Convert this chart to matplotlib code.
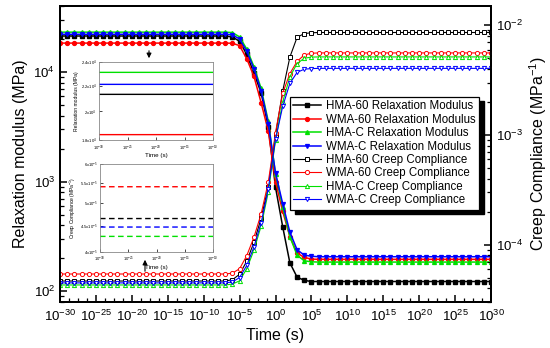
import matplotlib
matplotlib.use("Agg")
import matplotlib.pyplot as plt
from matplotlib.ticker import FixedLocator, NullFormatter, NullLocator, LogLocator
from matplotlib.patches import Rectangle, FancyArrowPatch
import numpy as np

plt.rcParams['font.family'] = ['Liberation Sans', 'DejaVu Sans']
plt.rcParams['mathtext.fontset'] = 'custom'
plt.rcParams['mathtext.rm'] = 'Liberation Sans'
plt.rcParams['mathtext.it'] = 'Liberation Sans:italic'
plt.rcParams['mathtext.default'] = 'regular'

# ---------------- data ----------------
decade_exponents = list(range(-30, 31))          # 1e-30 ... 1e30 s, one point per decade
time_s = [10.0 ** e for e in decade_exponents]

# Relaxation modulus (MPa)
relax_hma60 = [
    21300, 21300, 21300, 21300, 21300, 21300, 21300, 21300, 21300, 21300, 21300, 21300,
    21300, 21300, 21300, 21300, 21300, 21300, 21300, 21300, 21300, 21300, 21300, 21300,
    20900, 19050, 14450, 9770, 6460, 3160, 890, 389, 182, 135, 126, 123,
    123, 123, 123, 123, 123, 123, 123, 123, 123, 123, 123, 123,
    123, 123, 123, 123, 123, 123, 123, 123, 123, 123, 123, 123, 123]
relax_wma60 = [
    18360, 18360, 18360, 18360, 18360, 18360, 18360, 18360, 18360, 18360, 18360, 18360,
    18360, 18360, 18360, 18360, 18360, 18360, 18360, 18360, 18360, 18360, 18360, 18360,
    18300, 17400, 13200, 9120, 5250, 2880, 1000, 537, 316, 224, 204, 197,
    196, 196, 196, 196, 196, 196, 196, 196, 196, 196, 196, 196,
    196, 196, 196, 196, 196, 196, 196, 196, 196, 196, 196, 196, 196]
relax_hmac = [
    23100, 23100, 23100, 23100, 23100, 23100, 23100, 23100, 23100, 23100, 23100, 23100,
    23100, 23100, 23100, 23100, 23100, 23100, 23100, 23100, 23100, 23100, 23100, 23100,
    22900, 20900, 16200, 11200, 7080, 3550, 1175, 589, 316, 214, 190, 186,
    185, 185, 185, 185, 185, 185, 185, 185, 185, 185, 185, 185,
    185, 185, 185, 185, 185, 185, 185, 185, 185, 185, 185, 185, 185]
relax_wmac = [
    22100, 22100, 22100, 22100, 22100, 22100, 22100, 22100, 22100, 22100, 22100, 22100,
    22100, 22100, 22100, 22100, 22100, 22100, 22100, 22100, 22100, 22100, 22100, 22100,
    21900, 19950, 15500, 10700, 6760, 3390, 1200, 631, 347, 240, 214, 209,
    207, 207, 207, 207, 207, 207, 207, 207, 207, 207, 207, 207,
    207, 207, 207, 207, 207, 207, 207, 207, 207, 207, 207, 207, 207]

# Creep compliance (1/MPa)
creep_hma60 = [
    4.66e-5, 4.66e-5, 4.66e-5, 4.66e-5, 4.66e-5, 4.66e-5, 4.66e-5, 4.66e-5, 4.66e-5, 4.66e-5, 4.66e-5, 4.66e-5,
    4.66e-5, 4.66e-5, 4.66e-5, 4.66e-5, 4.66e-5, 4.66e-5, 4.66e-5, 4.66e-5, 4.66e-5, 4.66e-5, 4.66e-5, 4.66e-5,
    4.79e-5, 5.37e-5, 7.08e-5, 1.05e-4, 1.74e-4, 3.39e-4, 1.0e-3, 2.51e-3, 5.13e-3, 7.76e-3, 8.41e-3, 8.55e-3,
    8.6e-3, 8.6e-3, 8.6e-3, 8.6e-3, 8.6e-3, 8.6e-3, 8.6e-3, 8.6e-3, 8.6e-3, 8.6e-3, 8.6e-3, 8.6e-3,
    8.6e-3, 8.6e-3, 8.6e-3, 8.6e-3, 8.6e-3, 8.6e-3, 8.6e-3, 8.6e-3, 8.6e-3, 8.6e-3, 8.6e-3, 8.6e-3, 8.6e-3]
creep_wma60 = [
    5.40e-5, 5.40e-5, 5.40e-5, 5.40e-5, 5.40e-5, 5.40e-5, 5.40e-5, 5.40e-5, 5.40e-5, 5.40e-5, 5.40e-5, 5.40e-5,
    5.40e-5, 5.40e-5, 5.40e-5, 5.40e-5, 5.40e-5, 5.40e-5, 5.40e-5, 5.40e-5, 5.40e-5, 5.40e-5, 5.40e-5, 5.40e-5,
    5.5e-5, 6.03e-5, 7.94e-5, 1.17e-4, 1.91e-4, 3.72e-4, 1.05e-3, 2.40e-3, 3.63e-3, 4.68e-3, 5.37e-3, 5.56e-3,
    5.6e-3, 5.6e-3, 5.6e-3, 5.6e-3, 5.6e-3, 5.6e-3, 5.6e-3, 5.6e-3, 5.6e-3, 5.6e-3, 5.6e-3, 5.6e-3,
    5.6e-3, 5.6e-3, 5.6e-3, 5.6e-3, 5.6e-3, 5.6e-3, 5.6e-3, 5.6e-3, 5.6e-3, 5.6e-3, 5.6e-3, 5.6e-3, 5.6e-3]
creep_hmac = [
    4.29e-5, 4.29e-5, 4.29e-5, 4.29e-5, 4.29e-5, 4.29e-5, 4.29e-5, 4.29e-5, 4.29e-5, 4.29e-5, 4.29e-5, 4.29e-5,
    4.29e-5, 4.29e-5, 4.29e-5, 4.29e-5, 4.29e-5, 4.29e-5, 4.29e-5, 4.29e-5, 4.29e-5, 4.29e-5, 4.29e-5, 4.29e-5,
    4.37e-5, 4.68e-5, 6.03e-5, 8.91e-5, 1.48e-4, 3.02e-4, 8.91e-4, 2.0e-3, 3.39e-3, 4.47e-3, 5.01e-3, 5.13e-3,
    5.15e-3, 5.15e-3, 5.15e-3, 5.15e-3, 5.15e-3, 5.15e-3, 5.15e-3, 5.15e-3, 5.15e-3, 5.15e-3, 5.15e-3, 5.15e-3,
    5.15e-3, 5.15e-3, 5.15e-3, 5.15e-3, 5.15e-3, 5.15e-3, 5.15e-3, 5.15e-3, 5.15e-3, 5.15e-3, 5.15e-3, 5.15e-3, 5.15e-3]
creep_wmac = [
    4.48e-5, 4.48e-5, 4.48e-5, 4.48e-5, 4.48e-5, 4.48e-5, 4.48e-5, 4.48e-5, 4.48e-5, 4.48e-5, 4.48e-5, 4.48e-5,
    4.48e-5, 4.48e-5, 4.48e-5, 4.48e-5, 4.48e-5, 4.48e-5, 4.48e-5, 4.48e-5, 4.48e-5, 4.48e-5, 4.48e-5, 4.48e-5,
    4.57e-5, 5.01e-5, 6.46e-5, 9.55e-5, 1.58e-4, 3.24e-4, 9.12e-4, 1.82e-3, 2.95e-3, 3.72e-3, 3.98e-3, 4.03e-3,
    4.05e-3, 4.05e-3, 4.05e-3, 4.05e-3, 4.05e-3, 4.05e-3, 4.05e-3, 4.05e-3, 4.05e-3, 4.05e-3, 4.05e-3, 4.05e-3,
    4.05e-3, 4.05e-3, 4.05e-3, 4.05e-3, 4.05e-3, 4.05e-3, 4.05e-3, 4.05e-3, 4.05e-3, 4.05e-3, 4.05e-3, 4.05e-3, 4.05e-3]

relax_labels = ["HMA-60 Relaxation Modulus", "WMA-60 Relaxation Modulus",
                "HMA-C Relaxation Modulus", "WMA-C Relaxation Modulus"]
creep_labels = ["HMA-60 Creep Compliance", "WMA-60 Creep Compliance",
                "HMA-C Creep Compliance", "WMA-C Creep Compliance"]
colors = ["#000000", "#FF0000", "#00E000", "#0000FF"]
markers = ["s", "o", "^", "v"]

inset1_yticks = [1.8e4, 2.0e4, 2.2e4, 2.4e4]
inset1_yticklabels = ["1.8x10$^4$", "2x10$^4$", "2.2x10$^4$", "2.4x10$^4$"]
inset2_yticks = [4e-5, 4.5e-5, 5e-5, 5.5e-5, 6e-5]
inset2_yticklabels = ["4x10$^{-5}$", "4.5x10$^{-5}$", "5x10$^{-5}$", "5.5x10$^{-5}$", "6x10$^{-5}$"]

relax_series = [relax_hma60, relax_wma60, relax_hmac, relax_wmac]
creep_series = [creep_hma60, creep_wma60, creep_hmac, creep_wmac]

# ---------------- figure ----------------
W, H = 550, 348
fig = plt.figure(figsize=(W / 100, H / 100), dpi=100)
ax = fig.add_axes([60 / W, 1 - 302 / H, (491 - 60) / W, (302 - 6) / H])
ax2 = ax.twinx()

handles = []
for y, c, m, lab in zip(relax_series, colors, markers, relax_labels):
    h, = ax.plot(time_s, y, color=c, marker=m, ms=2.8, lw=1.1, mfc=c, mec=c, label=lab)
    handles.append(h)
for y, c, m, lab in zip(creep_series, colors, markers, creep_labels):
    h, = ax2.plot(time_s, y, color=c, marker=m, ms=3.0, lw=0.8, mfc='white', mec=c,
                  mew=0.7, label=lab)
    handles.append(h)

ax.set_xscale('log')
ax.set_yscale('log')
ax2.set_yscale('log')
ax.set_xlim(1e-30, 1e30)
ax.set_ylim(80, 40000)
ax2.set_ylim(3e-5, 0.015)

ax.xaxis.set_major_locator(FixedLocator([10.0 ** e for e in range(-30, 31, 5)]))
ax.xaxis.set_minor_locator(FixedLocator([10.0 ** (-30 + 1.25 * k) for k in range(49) if k % 4 != 0]))
ax.xaxis.set_minor_formatter(NullFormatter())
ax.yaxis.set_minor_locator(LogLocator(base=10, subs=np.arange(2, 10), numticks=20))
ax.yaxis.set_minor_formatter(NullFormatter())
ax2.yaxis.set_minor_locator(LogLocator(base=10, subs=np.arange(2, 10), numticks=20))
ax2.yaxis.set_minor_formatter(NullFormatter())

for a in (ax, ax2):
    a.tick_params(which='major', direction='in', length=5, width=1.1, labelsize=9.5)
    a.tick_params(which='minor', direction='in', length=3, width=0.9)
    for s in a.spines.values():
        s.set_linewidth(1.4)
ax.tick_params(axis='x', pad=5)

ax.set_xlabel("Time (s)", fontsize=11.5, labelpad=3)
ax.set_ylabel("Relaxation modulus (MPa)", fontsize=11.5, labelpad=4)
ax2.set_ylabel("Creep Compliance (MPa$^{-1}$)", fontsize=11.5, labelpad=3)

# legend with black drop shadow
leg = ax2.legend(handles=handles, loc='upper left', bbox_to_anchor=(290 / W, 1 - 97 / H),
                 bbox_transform=fig.transFigure, fontsize=8.3, frameon=True, fancybox=False,
                 framealpha=1, edgecolor='black', borderpad=0.3, labelspacing=0.12,
                 handlelength=2.4, handletextpad=0.4, borderaxespad=0)
leg.get_frame().set_linewidth(0.9)
leg.set_zorder(10)
fig.canvas.draw()
bb = leg.get_window_extent()
shadow = Rectangle((bb.x0 + 5, bb.y0 - 4), bb.width, bb.height, transform=None,
                   facecolor='black', edgecolor='black', zorder=9)
ax2.add_artist(shadow)
shadow.set_clip_on(True)
shadow.set_clip_box(ax2.bbox)

# ---------------- insets ----------------
in1 = fig.add_axes([99 / W, 1 - 140 / H, (213 - 99) / W, (140 - 62) / H])
for y, c in zip(relax_series, colors):
    in1.plot(time_s, y, color=c, lw=1.0)
in1.set_xscale('log')
in1.set_yscale('log')
in1.set_xlim(1e-30, 1e-10)
in1.set_ylim(1.8e4, 2.4e4)
in1.yaxis.set_major_locator(FixedLocator(inset1_yticks))
in1.set_yticklabels(inset1_yticklabels)
in1.yaxis.set_minor_locator(NullLocator())
in1.xaxis.set_major_locator(FixedLocator([10.0 ** e for e in range(-30, -9, 5)]))
in1.xaxis.set_minor_locator(NullLocator())
in1.set_ylabel("Relaxation modulus (MPa)", fontsize=3.6, labelpad=1.5)
in1.set_xlabel("Time (s)", fontsize=4.5, labelpad=0.5)

in2 = fig.add_axes([100 / W, 1 - 251.5 / H, (213 - 100) / W, (251.5 - 164) / H])
for y, c in zip(creep_series, colors):
    in2.plot(time_s, y, color=c, lw=1.0, ls=(0, (4, 2.5)))
in2.set_xscale('log')
in2.set_yscale('log')
in2.set_xlim(1e-30, 1e-10)
in2.set_ylim(4e-5, 6e-5)
in2.yaxis.set_major_locator(FixedLocator(inset2_yticks))
in2.set_yticklabels(inset2_yticklabels)
in2.yaxis.set_minor_locator(NullLocator())
in2.xaxis.set_major_locator(FixedLocator([10.0 ** e for e in range(-30, -9, 5)]))
in2.xaxis.set_minor_locator(NullLocator())
in2.set_ylabel("Creep Compliance (MPa$^{-1}$)", fontsize=3.6, labelpad=1.5)
in2.set_xlabel("Time (s)", fontsize=4.5, labelpad=0.5)

for a in (in1, in2):
    a.tick_params(which='major', direction='in', length=2, width=0.5, labelsize=3.0, pad=1.5)
    a.tick_params(axis='x', pad=2.5)
    for s in a.spines.values():
        s.set_linewidth(0.6)
        s.set_color('#888888')

# arrows
fig.add_artist(FancyArrowPatch(
    (149 / W, 1 - 48 / H), (149 / W, 1 - 61 / H), transform=fig.transFigure,
    arrowstyle='-|>', mutation_scale=7, color='black', lw=0.8))
fig.add_artist(FancyArrowPatch(
    (145 / W, 1 - 274 / H), (145 / W, 1 - 257 / H), transform=fig.transFigure,
    arrowstyle='-|>', mutation_scale=7, color='black', lw=0.8))

fig.savefig("out.png", dpi=100)
